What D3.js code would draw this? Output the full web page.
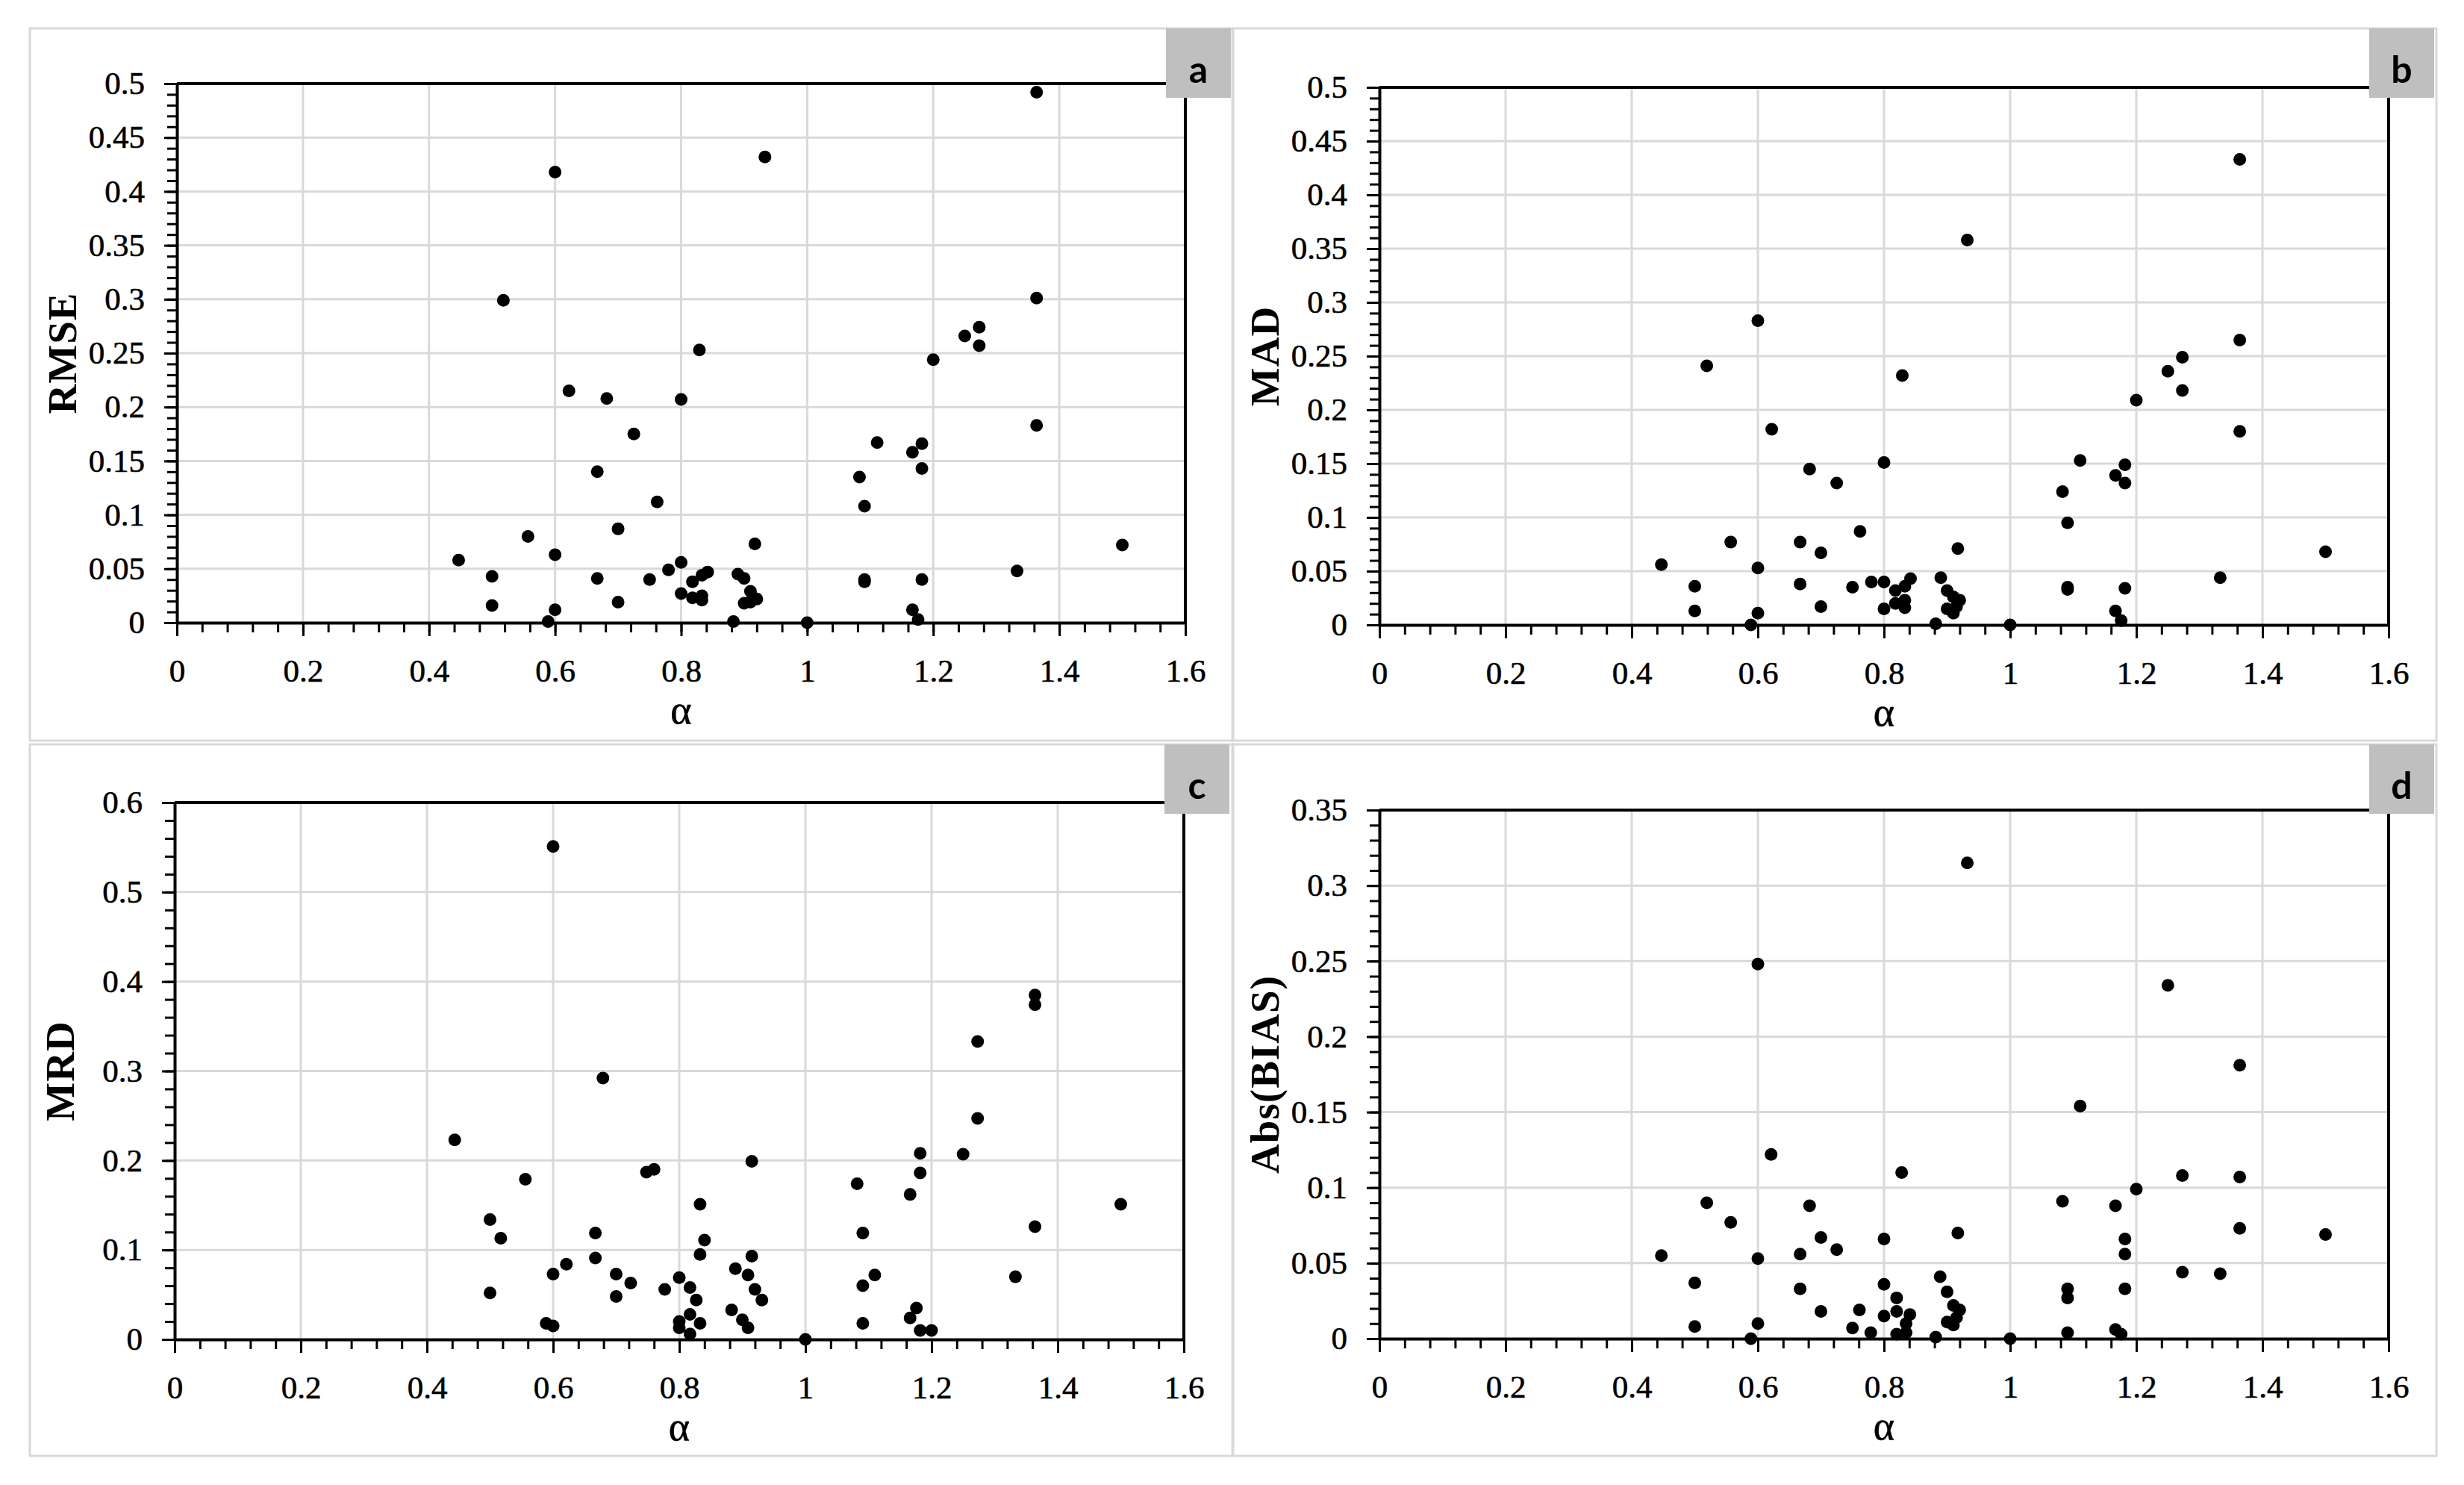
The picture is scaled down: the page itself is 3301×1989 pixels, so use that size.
<!DOCTYPE html>
<html>
<head>
<meta charset="utf-8">
<script src="https://cdn.jsdelivr.net/npm/d3@7"></script>
<style>
  html, body { margin: 0; padding: 0; background: #fff; }
  svg { display: block; }
</style>
</head>
<body>
<svg id="chart" width="3301" height="1989"></svg>
<script>
// DATA -----------------------------------------------------------------------

// x tick labels shared by all four panels
var alphaTicks = [0, 0.2, 0.4, 0.6, 0.8, 1, 1.2, 1.4, 1.6];

// panel a: RMSE against alpha
var alphaA = [0.447, 0.5, 0.5, 0.518, 0.557, 0.589, 0.6, 0.6, 0.6, 0.622, 0.667, 0.667,
  0.682, 0.7, 0.7, 0.725, 0.75, 0.762, 0.78, 0.8, 0.8, 0.8, 0.818, 0.818, 0.829, 0.833,
  0.833, 0.833, 0.842, 0.883, 0.89, 0.9, 0.91, 0.9, 0.91, 0.917, 0.92, 0.915, 0.933, 1.0,
  1.083, 1.091, 1.091, 1.091, 1.111, 1.167, 1.182, 1.182, 1.182, 1.167, 1.176, 1.2, 1.25,
  1.273, 1.273, 1.333, 1.364, 1.364, 1.364, 1.5];
var rmse = [0.058, 0.043, 0.016, 0.299, 0.080, 0.001, 0.418, 0.063, 0.012, 0.215, 0.140, 0.041,
  0.208, 0.087, 0.019, 0.175, 0.040, 0.112, 0.049, 0.207, 0.056, 0.027, 0.038, 0.023, 0.253, 0.044,
  0.025, 0.021, 0.047, 0.001, 0.045, 0.041, 0.029, 0.018, 0.019, 0.073, 0.022, 0.023, 0.432, 0.0,
  0.135, 0.108, 0.038, 0.040, 0.167, 0.158, 0.166, 0.143, 0.040, 0.012, 0.003, 0.244, 0.266,
  0.274, 0.257, 0.048, 0.492, 0.301, 0.183, 0.072];

// panel b: MAD against alpha
var alphaB = [0.447, 0.5, 0.5, 0.519, 0.557, 0.589, 0.6, 0.6, 0.6, 0.622, 0.667, 0.667,
  0.682, 0.7, 0.7, 0.725, 0.75, 0.762, 0.78, 0.8, 0.8, 0.8, 0.818, 0.818, 0.829, 0.833,
  0.833, 0.833, 0.842, 0.882, 0.89, 0.9, 0.91, 0.9, 0.91, 0.917, 0.92, 0.915, 0.932, 1.0,
  1.083, 1.091, 1.091, 1.091, 1.111, 1.167, 1.182, 1.182, 1.182, 1.167, 1.176, 1.2, 1.25,
  1.273, 1.273, 1.333, 1.364, 1.364, 1.364, 1.5];
var mad = [0.056, 0.036, 0.013, 0.241, 0.077, 0.0, 0.283, 0.053, 0.011, 0.182, 0.077, 0.038,
  0.145, 0.067, 0.017, 0.132, 0.035, 0.087, 0.040, 0.151, 0.040, 0.015, 0.032, 0.020, 0.232, 0.036,
  0.023, 0.016, 0.043, 0.001, 0.044, 0.032, 0.026, 0.015, 0.011, 0.071, 0.023, 0.017, 0.358, 0.0,
  0.124, 0.095, 0.035, 0.033, 0.153, 0.139, 0.149, 0.132, 0.034, 0.013, 0.004, 0.209, 0.236,
  0.249, 0.218, 0.044, 0.433, 0.265, 0.180, 0.068];

// panel c: MRD against alpha
var alphaC = [0.444, 0.5, 0.5, 0.517, 0.556, 0.589, 0.6, 0.6, 0.6, 0.621, 0.667, 0.667,
  0.679, 0.7, 0.7, 0.723, 0.748, 0.76, 0.777, 0.8, 0.8, 0.8, 0.817, 0.817, 0.817, 0.827,
  0.833, 0.84, 0.833, 0.833, 0.883, 0.889, 0.9, 0.909, 0.909, 0.915, 0.915, 0.92, 0.931, 1.0,
  1.082, 1.091, 1.091, 1.091, 1.11, 1.166, 1.166, 1.176, 1.182, 1.182, 1.182, 1.2, 1.25,
  1.273, 1.273, 1.333, 1.364, 1.364, 1.364, 1.5];
var mrd = [0.223, 0.134, 0.052, 0.113, 0.179, 0.018, 0.551, 0.073, 0.015, 0.084, 0.119, 0.091,
  0.292, 0.073, 0.048, 0.063, 0.187, 0.190, 0.056, 0.069, 0.020, 0.013, 0.058, 0.028, 0.006, 0.044,
  0.151, 0.111, 0.095, 0.018, 0.033, 0.079, 0.022, 0.072, 0.013, 0.199, 0.093, 0.056, 0.044, 0.0,
  0.174, 0.119, 0.060, 0.018, 0.072, 0.162, 0.024, 0.035, 0.208, 0.186, 0.010, 0.010, 0.207,
  0.333, 0.247, 0.070, 0.385, 0.374, 0.126, 0.151];

// panel d: Abs(BIAS) against alpha
var alphaD = [0.447, 0.5, 0.5, 0.519, 0.557, 0.589, 0.6, 0.6, 0.6, 0.621, 0.667, 0.667,
  0.682, 0.7, 0.7, 0.725, 0.75, 0.761, 0.779, 0.8, 0.8, 0.8, 0.82, 0.82, 0.82, 0.828,
  0.835, 0.835, 0.841, 0.882, 0.889, 0.9, 0.9, 0.91, 0.91, 0.917, 0.92, 0.915, 0.932, 1.0,
  1.083, 1.091, 1.091, 1.091, 1.111, 1.167, 1.167, 1.176, 1.182, 1.182, 1.182, 1.2, 1.25,
  1.273, 1.273, 1.333, 1.364, 1.364, 1.364, 1.5];
var absBias = [0.055, 0.037, 0.008, 0.090, 0.077, 0.0, 0.248, 0.053, 0.010, 0.122, 0.056, 0.033,
  0.088, 0.067, 0.018, 0.059, 0.007, 0.019, 0.004, 0.066, 0.036, 0.015, 0.027, 0.018, 0.003, 0.110,
  0.004, 0.010, 0.016, 0.001, 0.041, 0.031, 0.011, 0.022, 0.009, 0.070, 0.019, 0.014, 0.315, 0.0,
  0.091, 0.033, 0.027, 0.004, 0.154, 0.088, 0.006, 0.003, 0.066, 0.056, 0.033, 0.099, 0.234,
  0.108, 0.044, 0.043, 0.181, 0.107, 0.073, 0.069];


// LAYOUT ---------------------------------------------------------------------

var panels = [
  { letter: "a", title: "RMSE", xs: alphaA, ys: rmse, yMax: 0.5, yStep: 0.05, yMinor: 0.01,
    frame: [40, 38, 1651, 992], plot: [237, 112, 1588, 834] },
  { letter: "b", title: "MAD", xs: alphaB, ys: mad, yMax: 0.5, yStep: 0.05, yMinor: 0.01,
    frame: [1652, 38, 3264, 992], plot: [1848, 117, 3200, 837] },
  { letter: "c", title: "MRD", xs: alphaC, ys: mrd, yMax: 0.6, yStep: 0.1, yMinor: 0.02,
    frame: [40, 997, 1651, 1950], plot: [234, 1075, 1586, 1794] },
  { letter: "d", title: "Abs(BIAS)", xs: alphaD, ys: absBias, yMax: 0.35, yStep: 0.05, yMinor: 0.01,
    frame: [1652, 997, 3264, 1950], plot: [1848, 1085, 3200, 1793] }
];

var svg = d3.select("#chart");
var serif = "'Liberation Serif', 'Times New Roman', serif";

function steps(max, step) {
  var n = Math.round(max / step);
  return d3.range(n + 1).map(function(i) { return +(i * step).toFixed(4); });
}

panels.forEach(function(p) {
  var L = p.plot[0], T = p.plot[1], R = p.plot[2], B = p.plot[3];
  var g = svg.append("g");

  // panel border
  g.append("rect")
    .attr("x", p.frame[0]).attr("y", p.frame[1])
    .attr("width", p.frame[2] - p.frame[0]).attr("height", p.frame[3] - p.frame[1])
    .attr("fill", "#fff").attr("stroke", "#d9d9d9").attr("stroke-width", 3);

  var x = d3.scaleLinear().domain([0, 1.6]).range([L, R]);
  var y = d3.scaleLinear().domain([0, p.yMax]).range([B, T]);
  var yMajor = steps(p.yMax, p.yStep);
  var yMinor = steps(p.yMax, p.yMinor);
  var xMinor = steps(1.6, 0.04);

  // gridlines
  g.selectAll(".vgrid").data(alphaTicks.slice(1, -1)).enter().append("line")
    .attr("x1", function(d) { return x(d); }).attr("x2", function(d) { return x(d); })
    .attr("y1", T).attr("y2", B)
    .attr("stroke", "#d9d9d9").attr("stroke-width", 3);
  g.selectAll(".hgrid").data(yMajor.slice(1, -1)).enter().append("line")
    .attr("x1", L).attr("x2", R)
    .attr("y1", function(d) { return y(d); }).attr("y2", function(d) { return y(d); })
    .attr("stroke", "#d9d9d9").attr("stroke-width", 3);

  // top and right border of the plot area
  g.append("path")
    .attr("d", "M" + L + "," + T + "H" + R + "V" + B)
    .attr("fill", "none").attr("stroke", "#000").attr("stroke-width", 4);

  // minor ticks
  g.append("g").attr("transform", "translate(" + L + ",0)")
    .call(d3.axisLeft(y).tickValues(yMinor).tickSize(13).tickSizeOuter(0).tickFormat(""))
    .call(function(a) { a.selectAll("line").attr("stroke-width", 3); a.select(".domain").remove(); });
  g.append("g").attr("transform", "translate(0," + B + ")")
    .call(d3.axisBottom(x).tickValues(xMinor).tickSize(13).tickSizeOuter(0).tickFormat(""))
    .call(function(a) { a.selectAll("line").attr("stroke-width", 3); a.select(".domain").remove(); });

  // major ticks + labels
  var yAxis = g.append("g").attr("transform", "translate(" + L + ",0)")
    .call(d3.axisLeft(y).tickValues(yMajor).tickSize(17).tickSizeOuter(0).tickPadding(26)
      .tickFormat(function(d) { return String(d); }));
  var xAxis = g.append("g").attr("transform", "translate(0," + B + ")")
    .call(d3.axisBottom(x).tickValues(alphaTicks).tickSize(18).tickSizeOuter(0).tickPadding(30)
      .tickFormat(function(d) { return String(d); }));
  [yAxis, xAxis].forEach(function(a) {
    a.attr("font-family", serif).attr("font-size", 43);
    a.selectAll("text").attr("fill", "#000").attr("stroke", "#000").attr("stroke-width", 0.6);
    a.selectAll("line").attr("stroke-width", 3);
    a.select(".domain").attr("stroke-width", 4);
  });

  // points
  g.selectAll(".pt").data(p.xs).enter().append("circle")
    .attr("cx", function(d) { return x(d); })
    .attr("cy", function(d, i) { return y(p.ys[i]); })
    .attr("r", 8.5)
    .attr("fill", "#000");

  // axis titles
  g.append("text")
    .attr("transform", "translate(" + (L - 135) + "," + ((T + B) / 2) + ") rotate(-90)")
    .attr("text-anchor", "middle")
    .attr("font-family", serif).attr("font-weight", "bold").attr("font-size", 55)
    .attr("letter-spacing", 1)
    .text(p.title);
  g.append("text")
    .attr("x", (L + R) / 2).attr("y", B + 135)
    .attr("text-anchor", "middle")
    .attr("font-family", serif).attr("font-size", 54)
    .attr("stroke", "#000").attr("stroke-width", 0.6)
    .text("α");

  // panel letter box
  var bx = R - 26, by = p.frame[1];
  g.append("rect")
    .attr("x", bx).attr("y", by).attr("width", 87).attr("height", 93)
    .attr("fill", "#bfbfbf");
  g.append("text")
    .attr("x", bx + 43.5).attr("y", by + 73)
    .attr("text-anchor", "middle")
    .attr("font-family", "Lato, 'Open Sans', sans-serif").attr("font-weight", "bold").attr("font-size", 50)
    .text(p.letter);
});
</script>
</body>
</html>
